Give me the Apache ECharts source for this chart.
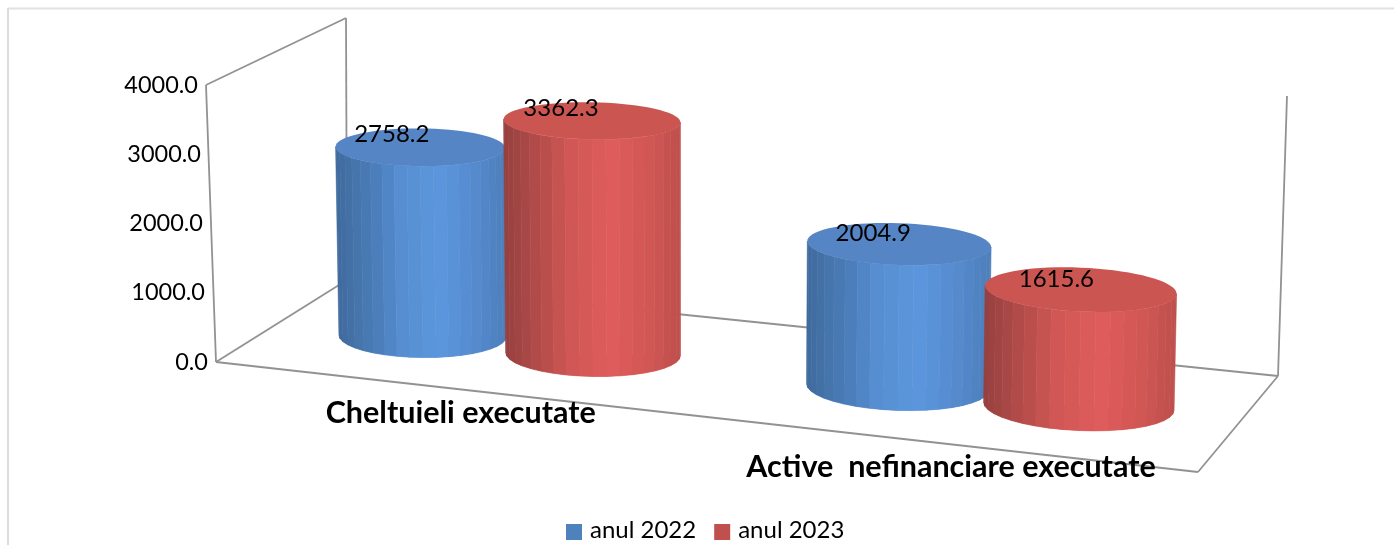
<!DOCTYPE html>
<html>
<head>
<meta charset="UTF-8">
<title>Cheltuieli si active nefinanciare</title>
<style>
html, body { margin: 0; padding: 0; background: #fff; }
#chart { width: 1394px; height: 545px; }
</style>
<script src="https://cdn.jsdelivr.net/npm/echarts@6/dist/echarts.min.js"></script>
</head>
<body>
<div id="chart"></div>
<script type="text/javascript">
// data
var categories = ['Cheltuieli executate', 'Active  nefinanciare executate'];
var seriesNames = ['anul 2022', 'anul 2023'];
var values2022 = [2758.2, 2004.9];
var values2023 = [3362.3, 1615.6];
var yTicks = [0, 1000, 2000, 3000, 4000];

// colors
var FONT = 'Lato, "Noto Sans", sans-serif';
var LEGEND_COLORS = ['#4f81bd', '#c0504d'];
var TOP_COLORS = ['#5585c5', '#cb5551'];
var SIDE_STOPS = [
	[[0, '#3f6a9e'], [0.12, '#4675ab'], [0.25, '#4b7fbd'], [0.4, '#5790d3'], [0.62, '#5b96dc'], [0.85, '#5488cb'], [1, '#4d7fba']],
	[[0, '#963f3f'], [0.12, '#a84846'], [0.25, '#bc4f4c'], [0.4, '#d25856'], [0.62, '#de5c5b'], [0.85, '#cf5654'], [1, '#bd4f4c']]
];

// the 3d box: screen corners of the floor and how far each corner rises at the axis max
// order: front left, front right, back right, back left
var FLOOR = [[216, 362], [1198, 472], [1278, 376], [347, 280]];
var RISE = [[-10, -277], [5, -304], [9, -280], [-1, -262]];
var GRID = { left: 216, top: 85, width: 982, height: 277 };

var DEPTH = 0.49;      // where the cylinders stand between front and back
// cylinder placement per series, first and second category
var OFFSET_U = [[-0.092, -0.087], [0.094, 0.0945]];
var RADIUS_U = [0.093, 0.094];
var RADIUS_V = 0.26;
var FACETS = 20;
var LABEL_SHIFT = [[-28.5, -13], [-31, -13], [-26, -11], [-24.5, -10]];

function squareToQuad(q) {
	var dx1 = q[1][0] - q[2][0], dx2 = q[3][0] - q[2][0], sx = q[0][0] - q[1][0] + q[2][0] - q[3][0];
	var dy1 = q[1][1] - q[2][1], dy2 = q[3][1] - q[2][1], sy = q[0][1] - q[1][1] + q[2][1] - q[3][1];
	var den = dx1 * dy2 - dx2 * dy1;
	var g = (sx * dy2 - dx2 * sy) / den;
	var h = (dx1 * sy - sx * dy1) / den;
	var a = q[1][0] - q[0][0] + g * q[1][0];
	var b = q[3][0] - q[0][0] + h * q[3][0];
	var d = q[1][1] - q[0][1] + g * q[1][1];
	var e = q[3][1] - q[0][1] + h * q[3][1];
	return function (u, v) {
		var w = g * u + h * v + 1;
		return [(a * u + b * v + q[0][0]) / w, (d * u + e * v + q[0][1]) / w];
	};
}
var floorAt = squareToQuad(FLOOR);

// u: along the category axis, v: depth, f: share of the value axis
function project(u, v, f) {
	var p = floorAt(u, v);
	return [0, 1].map(function (k) {
		var front = RISE[0][k] + (RISE[1][k] - RISE[0][k]) * u;
		var back = RISE[3][k] + (RISE[2][k] - RISE[3][k]) * u;
		return p[k] + (front + (back - front) * v) * f;
	});
}

function hexToRgb(hex) {
	return [parseInt(hex.substr(1, 2), 16), parseInt(hex.substr(3, 2), 16), parseInt(hex.substr(5, 2), 16)];
}

function sideColor(stops, s) {
	s = Math.max(0, Math.min(1, s));
	for (var i = 1; i < stops.length; i++) {
		if (s <= stops[i][0]) {
			var t = (s - stops[i - 1][0]) / (stops[i][0] - stops[i - 1][0]);
			var c0 = hexToRgb(stops[i - 1][1]), c1 = hexToRgb(stops[i][1]);
			return 'rgb(' + [0, 1, 2].map(function (k) {
				return Math.round(c0[k] + (c1[k] - c0[k]) * t);
			}).join(',') + ')';
		}
	}
	return stops[stops.length - 1][1];
}

// ellipse of one end of the cylinder
function ringAt(u, radius, f) {
	var c = project(u, DEPTH, f);
	var l = project(u - radius, DEPTH, f), r = project(u + radius, DEPTH, f);
	var fr = project(u, DEPTH - RADIUS_V, f), bk = project(u, DEPTH + RADIUS_V, f);
	return {
		cx: c[0], cy: c[1],
		rx: (r[0] - l[0]) / 2,
		ry: (fr[1] - bk[1]) / 2,
		tilt: 0.05 * u
	};
}

function ringPoint(ring, t) {
	var dx = ring.rx * Math.cos(t);
	return [ring.cx + dx, ring.cy + ring.ry * Math.sin(t) + ring.tilt * dx];
}

function ringPolygon(ring) {
	var pts = [];
	for (var i = 0; i < 72; i++) {
		pts.push(ringPoint(ring, i / 72 * Math.PI * 2));
	}
	return pts;
}

function cylinderRenderer(seriesIndex) {
	return function (params, api) {
		var cs = params.coordSys;
		var cat = api.value(0);
		var pos = api.coord([cat, api.value(1)]);
		var u = (pos[0] - cs.x) / cs.width + OFFSET_U[seriesIndex][cat];
		var f = (cs.y + cs.height - pos[1]) / cs.height;
		var radius = RADIUS_U[seriesIndex];
		var bottom = ringAt(u, radius, 0), top = ringAt(u, radius, f);
		var children = [];
		// rounded foot of the side, under the stripes
		var foot = [];
		for (var j = 0; j <= FACETS; j++) {
			foot.push(ringPoint(bottom, Math.PI - j / FACETS * Math.PI));
		}
		children.push({
			type: 'polygon',
			shape: { points: foot },
			style: { fill: SIDE_STOPS[seriesIndex][4][1] }
		});
		// side, cut in flat stripes from left to right
		for (var i = 0; i < FACETS; i++) {
			var t0 = Math.PI - i / FACETS * Math.PI, t1 = Math.PI - (i + 1) / FACETS * Math.PI;
			var s = (1 + Math.cos((t0 + t1) / 2)) / 2;
			var col = sideColor(SIDE_STOPS[seriesIndex], s);
			children.push({
				type: 'polygon',
				shape: { points: [ringPoint(top, t0), ringPoint(top, t1), ringPoint(bottom, t1), ringPoint(bottom, t0)] },
				style: { fill: col, stroke: col, lineWidth: 0.6 }
			});
		}
		children.push({
			type: 'polygon',
			shape: { points: ringPolygon(top) },
			style: { fill: TOP_COLORS[seriesIndex] }
		});
		var shift = LABEL_SHIFT[cat * 2 + seriesIndex];
		children.push({
			type: 'text',
			style: {
				text: api.value(1).toFixed(1),
				x: top.cx + shift[0],
				y: top.cy + shift[1],
				align: 'center',
				verticalAlign: 'middle',
				fill: '#000',
				fontSize: 24,
				fontFamily: FONT
			}
		});
		return { type: 'group', children: children };
	};
}

function wallRenderer(params, api) {
	var corners = [
		[project(0, 0, 0), project(0, 0, 1)],
		[project(0, 0, 1), project(0, 1, 1)],
		[project(0, 1, 1), project(0, 1, 0)],
		[project(0, 0, 0), project(0, 1, 0)],
		[project(0, 0, 0), project(1, 0, 0)],
		[project(0, 1, 0), project(1, 1, 0)],
		[project(1, 0, 0), project(1, 1, 0)],
		[project(1, 1, 0), project(1, 1, 1)]
	];
	return {
		type: 'group',
		children: corners.map(function (c) {
			return {
				type: 'line',
				shape: { x1: c[0][0], y1: c[0][1], x2: c[1][0], y2: c[1][1] },
				style: { stroke: '#929292', lineWidth: 1.8 }
			};
		})
	};
}

function categoryLabelRenderer(params, api) {
	var cs = params.coordSys;
	var pos = api.coord([api.value(0), 0]);
	var p = project((pos[0] - cs.x) / cs.width, 0, 0);
	return {
		type: 'text',
		z2: 50,
		style: {
			text: categories[api.value(0)],
			x: p[0] + 15,
			y: p[1] + 25,
			align: 'center',
			verticalAlign: 'middle',
			fill: '#000',
			fontSize: 30.5,
			fontWeight: 'bold',
			fontFamily: FONT
		}
	};
}

function toPairs(values) {
	return values.map(function (v, i) { return [i, v]; });
}

// tick labels lean with the slanted axis
var tickRich = {};
yTicks.forEach(function (t, i) {
	tickRich['t' + i] = {
		fontSize: 23.5,
		fontFamily: FONT,
		color: '#000',
		padding: [0, [0, 3, 5, 7, 10][i], 0, 0]
	};
});

var myChart = echarts.init(document.getElementById('chart'));
var option = {
	animation: false,
	backgroundColor: '#fff',
	graphic: [
		{ type: 'line', silent: true, shape: { x1: 7.5, y1: 8.5, x2: 1394, y2: 8.5 }, style: { stroke: '#e2e2e2', lineWidth: 2 } },
		{ type: 'line', silent: true, shape: { x1: 8, y1: 8, x2: 8, y2: 545 }, style: { stroke: '#dcdcdc', lineWidth: 2 } }
	],
	grid: { left: GRID.left, top: GRID.top, width: GRID.width, height: GRID.height },
	xAxis: { type: 'category', data: categories, show: false },
	yAxis: {
		type: 'value',
		min: 0,
		max: 4000,
		interval: 1000,
		axisLine: { show: false },
		axisTick: { show: false },
		splitLine: { show: false },
		axisLabel: {
			margin: 8,
			formatter: function (v) {
				return '{t' + yTicks.indexOf(v) + '|' + v.toFixed(1) + '}';
			},
			rich: tickRich
		}
	},
	legend: {
		data: seriesNames,
		left: 561,
		top: 513,
		icon: 'rect',
		itemWidth: 16,
		itemHeight: 16,
		itemGap: 18,
		formatter: function (name) { return '{a|' + name + '}'; },
		textStyle: {
			rich: { a: { fontSize: 24, fontFamily: FONT, color: '#000', padding: [0, 0, 4, 3] } }
		}
	},
	series: [
		{ type: 'custom', name: 'walls', silent: true, clip: false, renderItem: wallRenderer, data: [[0, 0]] },
		{
			type: 'custom', name: seriesNames[0], clip: false, silent: true,
			itemStyle: { color: LEGEND_COLORS[0] },
			renderItem: cylinderRenderer(0),
			encode: { x: 0, y: 1 },
			data: toPairs(values2022)
		},
		{
			type: 'custom', name: seriesNames[1], clip: false, silent: true,
			itemStyle: { color: LEGEND_COLORS[1] },
			renderItem: cylinderRenderer(1),
			encode: { x: 0, y: 1 },
			data: toPairs(values2023)
		},
		{
			type: 'custom', name: 'categories', silent: true, clip: false,
			renderItem: categoryLabelRenderer,
			data: categories.map(function (c, i) { return [i, 0]; })
		}
	]
};
myChart.setOption(option);
</script>
</body>
</html>
